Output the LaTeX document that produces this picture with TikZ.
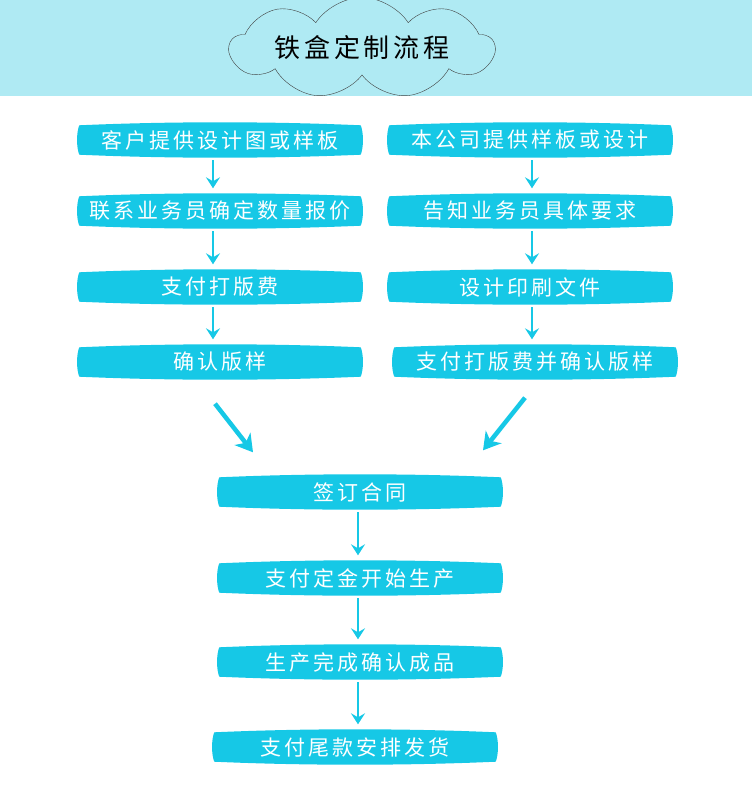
\documentclass[tikz,border=0pt]{standalone}
\usepackage{fontspec}
\newfontfamily\cjk[LetterSpace=14]{Noto Sans CJK SC}
\usetikzlibrary{arrows.meta,shapes.symbols,backgrounds,calc}
\definecolor{bandcyan}{RGB}{175,234,243}
\definecolor{boxcyan}{RGB}{22,200,230}

\begin{document}
\begin{tikzpicture}[x=1pt,y=-1pt,
			stage/.style={rectangle, minimum width=281pt, minimum height=29pt, inner sep=0pt, text=white, font=\cjk\fontsize{21}{24}\selectfont},
			link/.style={-{Stealth[length=11pt,width=14pt,inset=4pt]}, draw=boxcyan, line width=2.6pt, shorten <=5.5pt, shorten >=8pt},
			turn/.style={-{Stealth[length=17pt,width=20pt,inset=5pt]}, draw=boxcyan, line width=4.5pt},
			title/.style={cloud, cloud puffs=9, cloud puff arc=115, aspect=4.2, inner sep=0pt, draw=black!75, fill=bandcyan, minimum width=264pt, minimum height=64pt, font=\cjk\fontsize{26}{28}\selectfont}
			]
			\useasboundingbox (0,0) rectangle (752,800);
			\fill[bandcyan] (0,0) rectangle (752,96);
			\node[title] (T) at (362,48) {铁盒定制流程};
			
			\node[stage] (L1) at (220,140) {客户提供设计图或样板};
			\node[stage] (L2) at (220,211) {联系业务员确定数量报价};
			\node[stage] (L3) at (220,287) {支付打版费};
			\node[stage] (L4) at (220,362) {确认版样};
			
			\node[stage] (R1) at (530,140) {本公司提供样板或设计};
			\node[stage] (R2) at (530,211) {告知业务员具体要求};
			\node[stage] (R3) at (530,287) {设计印刷文件};
			\node[stage] (R4) at (535,362) {支付打版费并确认版样};
			
			\node[stage] (B1) at (360,492) {签订合同};
			\node[stage] (B2) at (360,578) {支付定金开始生产};
			\node[stage] (B3) at (360,662) {生产完成确认成品};
			\node[stage] (B4) at (355,747) {支付尾款安排发货};
			
			\begin{scope}[on background layer]
				\foreach \n in {L1,L2,L3,L4,R1,R2,R3,R4,B1,B2,B3,B4}
				\fill[boxcyan] (\n.north west)
				.. controls ($(\n.north west)+(90,-4)$) and ($(\n.north east)+(-90,-4)$) .. (\n.north east)
				.. controls ($(\n.north east)+(3,7)$) and ($(\n.south east)+(3,-7)$) .. (\n.south east)
				.. controls ($(\n.south east)+(-90,4)$) and ($(\n.south west)+(90,4)$) .. (\n.south west)
				.. controls ($(\n.south west)+(-3,-7)$) and ($(\n.north west)+(-3,7)$) .. (\n.north west) -- cycle;
			\end{scope}
			
			\draw[link] ([xshift=-7pt]L1.south) -- ([xshift=-7pt]L2.north);
			\draw[link] ([xshift=-7pt]L2.south) -- ([xshift=-7pt]L3.north);
			\draw[link] ([xshift=-7pt]L3.south) -- ([xshift=-7pt]L4.north);
			\draw[link] ([xshift=2pt]R1.south) -- ([xshift=2pt]R2.north);
			\draw[link] ([xshift=2pt]R2.south) -- ([xshift=2pt]R3.north);
			\draw[link] ([xshift=2pt]R3.south) -- ([xshift=-3pt]R4.north);
			
			\coordinate (LA) at ($(L4.south)+(-5,27)$);
			\coordinate (LB) at ($(B1.north)+(-107,-25)$);
			\coordinate (RA) at ($(R4.south)+(-10,21)$);
			\coordinate (RB) at ($(B1.north)+(123,-27)$);
			\draw[turn] (LA) -- (LB);
			\draw[turn] (RA) -- (RB);
			
			\draw[link] ([xshift=-2pt]B1.south) -- ([xshift=-2pt]B2.north);
			\draw[link] ([xshift=-2pt]B2.south) -- ([xshift=-2pt]B3.north);
			\draw[link] ([xshift=-2pt]B3.south) -- ([xshift=3pt]B4.north);
		\end{tikzpicture}
\end{document}
